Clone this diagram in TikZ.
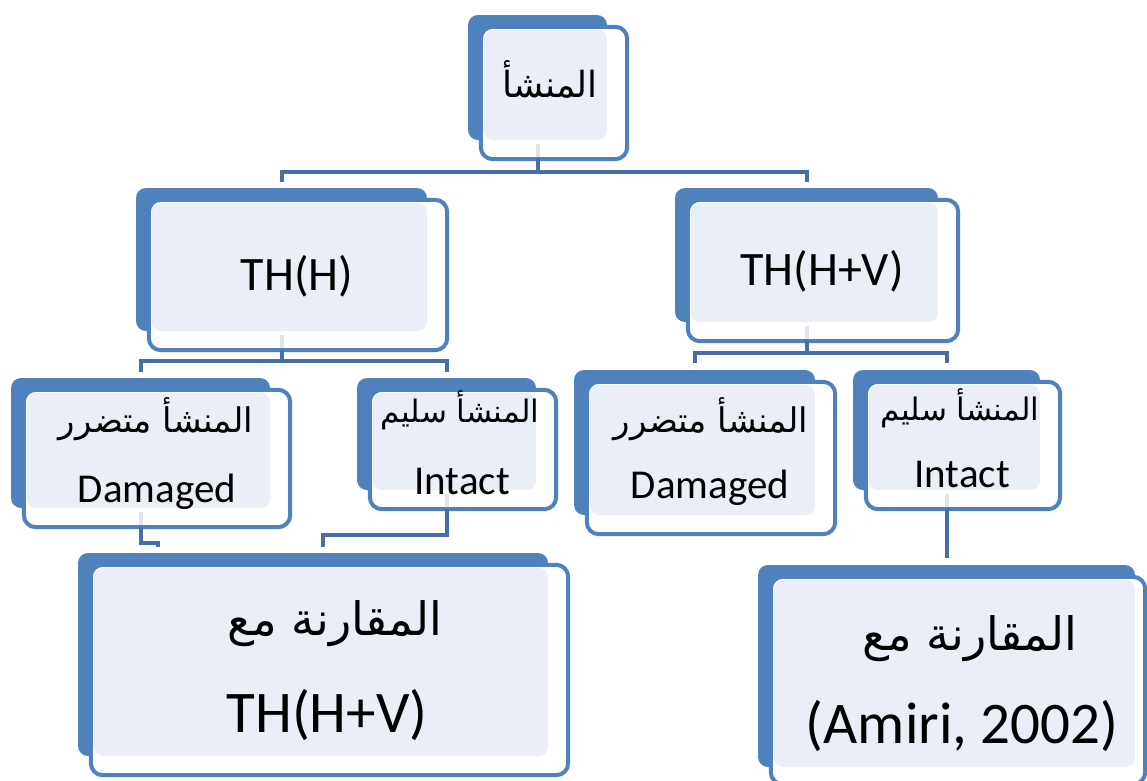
\documentclass[tikz,border=0pt]{standalone}
\usepackage{fontspec}
\setmainfont{Carlito}
\newfontfamily\latinfont{Carlito}
\newfontfamily\arabicfont[Script=Arabic]{DejaVu Sans}
\TeXXeTstate=1
\usetikzlibrary{calc}

\definecolor{boxblue}{HTML}{4F81BD}
\definecolor{boxlight}{HTML}{EAEFF7}
\definecolor{linkblue}{HTML}{456FA6}
\definecolor{stubgray}{HTML}{DFE5EE}

\newcommand{\tsize}[1]{\fontsize{#1}{#1}\selectfont}
% back panel, framed front panel, light face
\newcommand{\tribox}[5][20,19]{%
  \node[backbox, minimum width=#4pt, minimum height=#5pt] (#2) at (#3) {};
  \draw[frontbox] ([shift={(13,12)}]#2.north west) rectangle ([shift={(#1)}]#2.south east);
  \fill[lightbox] ([shift={(16,15)}]#2.north west) rectangle (#2.south east);
}

\begin{document}
\begin{tikzpicture}[x=1pt, y=-1pt,
    backbox/.style={rectangle, rounded corners=10pt, fill=boxblue, inner sep=0pt},
    frontbox/.style={draw=boxblue, line width=4pt, fill=white, rounded corners=12pt},
    lightbox/.style={fill=boxlight, rounded corners=10pt},
    conn/.style={draw=linkblue, line width=4pt},
    stub/.style={draw=stubgray, line width=4pt},
    ar/.style={inner sep=0pt, anchor=base, font=\arabicfont\tsize{#1}},
    la/.style={inner sep=0pt, anchor=base, font=\latinfont\tsize{#1}}]
    \path[use as bounding box] (0,0) rectangle (1147,780);
    \clip (0,0) rectangle (1147,780);

    % boxes
    \tribox{pa}{537.5,77.5}{139}{125}
    \tribox{thh}{281.5,259.5}{291}{143}
    \tribox{thv}{806.5,255}{263}{134}
    \tribox{dmgl}{140.5,443}{259}{130}
    \tribox{intl}{446.5,434}{179}{112}
    \tribox{dmgr}{694.5,442.5}{241}{145}
    \tribox{intr}{946.5,430}{187}{120}
    \tribox{cmpl}{313,654.5}{470}{203}
    \tribox[10,17]{cmpr}{946.5,666}{377}{202}

    % texts
    \node[ar=36] (pa-t) at (550,97) {\beginR المنشأ\endR};
    \node[la=48] (thh-t) at (297,290) {TH(H)};
    \node[la=48] (thv-t) at (822,285) {TH(H+V)};
    \node[ar=34] (dmgl-a) at (156,432) {\beginR المنشأ متضرر\endR};
    \node[la=41] (dmgl-t) at (157,502) {Damaged};
    \node[ar=31] (intl-a) at (460,422) {\beginR المنشأ سليم\endR};
    \node[la=41] (intl-t) at (462,494) {Intact};
    \node[ar=34] (dmgr-a) at (711,432) {\beginR المنشأ متضرر\endR};
    \node[la=41] (dmgr-t) at (710,498) {Damaged};
    \node[ar=31] (intr-a) at (960,420) {\beginR المنشأ سليم\endR};
    \node[la=41] (intr-t) at (962,487) {Intact};
    \node[ar=46] (cmpl-a) at (335,635) {\beginR المقارنة مع\endR};
    \node[la=59] (cmpl-t) at (327,732) {TH(H+V)};
    \node[ar=46] (cmpr-a) at (970,650) {\beginR المقارنة مع\endR};
    \node[la=59] (cmpr-t) at (962,743) {(Amiri, 2002)};

    % connectors
    \draw[stub] ([shift={(0,4)}]pa.south) -- ++(0,13);
    \draw[conn] ([shift={(0,18)}]pa.south) -- ++(0,14) coordinate (j1);
    \draw[conn] ([shift={(0,-6)}]thh.north) |- (j1) -| ([shift={(0,-6)}]thv.north);

    \draw[stub] ([shift={(0,4)}]thh.south) -- ++(0,13);
    \draw[conn] ([shift={(0,19)}]thh.south) -- ++(0,11) coordinate (j2);
    \draw[conn] ([shift={(0,-6)}]dmgl.north) |- (j2) -| ([shift={(0,-6)}]intl.north);

    \draw[stub] ([shift={(0,4)}]thv.south) -- ++(0,13);
    \draw[conn] ([shift={(0,18)}]thv.south) -- ++(0,13) coordinate (j3);
    \draw[conn] ([shift={(0,-7)}]dmgr.north) |- (j3) -| ([shift={(0,-7)}]intr.north);

    \draw[stub] ([shift={(0,4)}]dmgl.south) -- ++(0,13);
    \draw[conn] ([shift={(0,19)}]dmgl.south) |- ++(17,16) -- ++(0,4);
    \draw[stub] ([shift={(0,4)}]intl.south) -- ++(0,13);
    \draw[conn] ([shift={(0,19)}]intl.south) |- ++(-124,26) -- ++(0,12);
    \draw[stub] ([shift={(0,4)}]intr.south) -- ++(0,13);
    \draw[conn] ([shift={(0,19)}]intr.south) -- ([shift={(0,-7)}]cmpr.north);
\end{tikzpicture}
\end{document}
